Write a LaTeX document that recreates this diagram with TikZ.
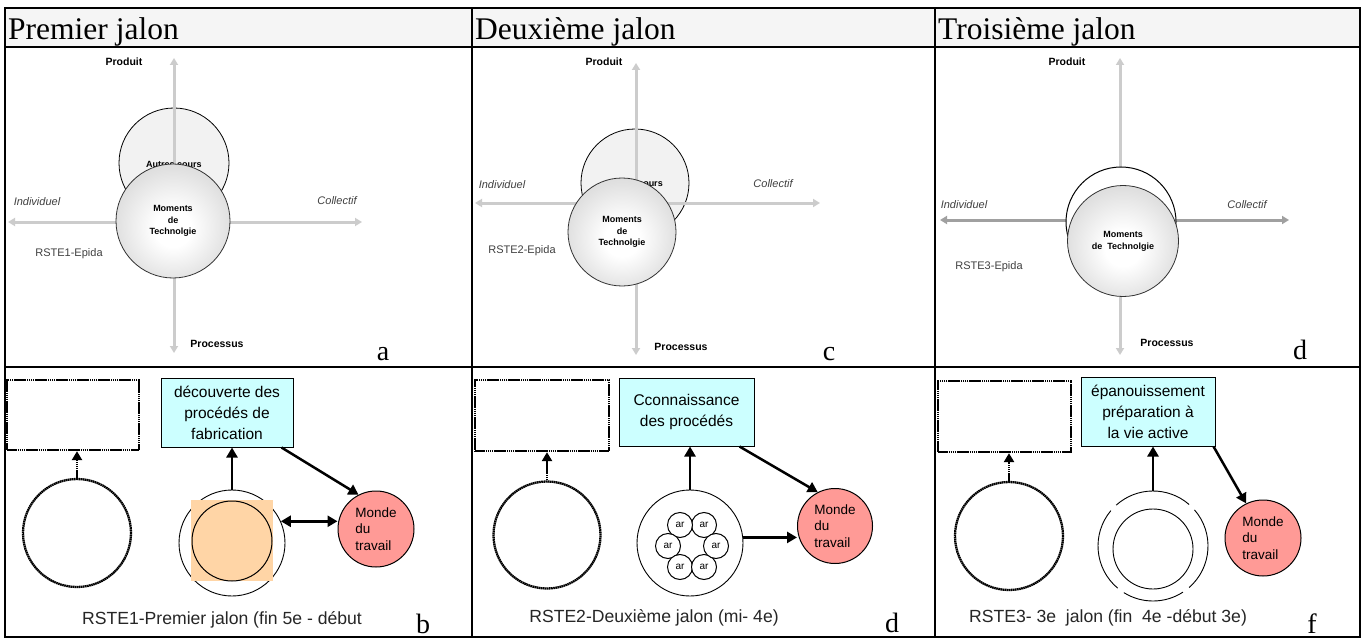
\documentclass[tikz,border=0pt]{standalone}
\usepackage{fontspec}
\setmainfont{Liberation Serif}
\setsansfont{Liberation Sans}
\usetikzlibrary{arrows.meta}
\definecolor{hdrfill}{HTML}{F5F5F5}
\definecolor{axlight}{HTML}{CCCCCC}
\definecolor{axdark}{HTML}{A0A0A0}
\definecolor{txtgray}{HTML}{404040}
\definecolor{cyanfill}{HTML}{CCFFFF}
\definecolor{peach}{HTML}{FFD5A6}
\definecolor{mondefill}{HTML}{FF9A96}
\pgfdeclareradialshading{momshade}{\pgfpoint{0bp}{-4bp}}{%
  color(0bp)=(white);
  color(8bp)=(white);
  color(25bp)=(black!12);
  color(50bp)=(black!25)}
\begin{document}
\begin{tikzpicture}[x=1pt,y=-1pt,
  frameline/.style={line width=2.2pt,black},
  axis/.style={line width=3pt,draw=axlight,{Triangle[length=7pt,width=8pt]}-{Triangle[length=7pt,width=8pt]}},
  axisdark/.style={axis,draw=axdark},
  lblbold/.style={font=\sffamily\bfseries\fontsize{10.5}{12}\selectfont},
  lblit/.style={font=\sffamily\itshape\fontsize{11}{13}\selectfont,text=txtgray},
  lblreg/.style={font=\sffamily\fontsize{11}{13}\selectfont,text=txtgray},
  moments/.style={circle,draw=black!80,line width=0.8pt,shading=momshade,inner sep=0pt,align=center,font=\sffamily\bfseries\fontsize{9}{11.8}\selectfont},
  autres/.style={circle,draw=black,line width=0.8pt,fill=black!5,inner sep=0pt,align=center,font=\sffamily\bfseries\fontsize{9}{11}\selectfont},
  hdrtext/.style={font=\fontsize{31.5}{33}\selectfont,anchor=base west,inner sep=0pt},
  panelletter/.style={font=\fontsize{28}{30}\selectfont,anchor=base,inner sep=0pt},
  dotline/.style={line width=2.3pt,dash pattern=on 1.6pt off 0.5pt},
  dotbox/.style={draw,dotline,minimum width=132pt,minimum height=70pt,inner sep=0pt},
  dotcirc/.style={circle,draw,dotline,inner sep=0pt},
  dotarrow/.style={dotline,-{Triangle[length=9pt,width=10pt]}},
  cyanbox/.style={draw,line width=1pt,fill=cyanfill,align=center,inner sep=0pt,font=\sffamily\fontsize{15.5}{21}\selectfont},
  thickarrow/.style={line width=2.5pt,-{Triangle[length=10pt,width=11pt]}},
  thickdouble/.style={line width=2.5pt,{Triangle[length=10pt,width=11pt]}-{Triangle[length=10pt,width=11pt]}},
  monde/.style={circle,draw,line width=1pt,fill=mondefill,minimum size=76pt,inner sep=0pt,align=left,font=\sffamily\fontsize{13.5}{16.5}\selectfont},
  plaincirc/.style={circle,draw,line width=0.9pt,inner sep=0pt},
  arcirc/.style={circle,draw,line width=1pt,fill=white,minimum size=25pt,inner sep=0pt,font=\sffamily\fontsize{10}{12}\selectfont},
  captiontext/.style={font=\sffamily\fontsize{17.6}{20}\selectfont,text=black!85,anchor=base,inner sep=0pt}
]
\useasboundingbox (0,0) rectangle (1367,639);
\fill[white] (0,0) rectangle (1367,639);
% ---------------- table ----------------
\fill[hdrfill] (5,8) rectangle (1360,47);
\draw[frameline] (5,8) rectangle (1360,637);
\draw[frameline] (5,47) -- (1360,47);
\draw[frameline] (5,367) -- (1360,367);
\draw[frameline] (472,8) -- (472,637);
\draw[frameline] (935,8) -- (935,637);
\node[hdrtext] (h1) at (8,40) {Premier jalon};
\node[hdrtext] (h2) at (475,40) {Deuxième jalon};
\node[hdrtext] (h3) at (938,40) {Troisième jalon};

% ---------------- panel a ----------------
\node[autres,minimum size=110pt] (au1) at (174,163) {};
\coordinate (a1t) at (174,58); \coordinate (a1b) at (174,353);
\coordinate (a1l) at (8,222); \coordinate (a1r) at (362,222);
\draw[axis] (a1t) -- (a1b);
\draw[axis] (a1l) -- (a1r);
\node[font=\sffamily\bfseries\fontsize{9}{11}\selectfont] (au1t) at (174,164) {Autres cours};
\node[moments,minimum size=114pt] (mo1) at (173,221) {Moments\\de\\Technolgie};
\node[lblbold] (pr1) at (124,62) {Produit};
\node[lblbold] (pc1) at (217,344) {Processus};
\node[lblit] (in1) at (37,202) {Individuel};
\node[lblit] (co1) at (337,201) {Collectif};
\node[lblreg] (rs1) at (69,254) {RSTE1-Epida};
\node[panelletter] (la) at (383,360) {a};

% ---------------- panel c ----------------
\node[autres,minimum size=108pt] (au2) at (635,183) {};
\coordinate (a2t) at (636,63); \coordinate (a2b) at (636,355);
\coordinate (a2l) at (475,203); \coordinate (a2r) at (820,203);
\draw[axis] (a2t) -- (a2b);
\draw[axis] (a2l) -- (a2r);
\node[font=\sffamily\bfseries\fontsize{9}{11}\selectfont] (au2t) at (635,183) {Autres cours};
\node[moments,minimum size=108pt] (mo2) at (622,232) {Moments\\de\\Technolgie};
\node[lblbold] (pr2) at (604,62) {Produit};
\node[lblbold] (pc2) at (681,347) {Processus};
\node[lblit] (in2) at (502,185) {Individuel};
\node[lblit] (co2) at (773,184) {Collectif};
\node[lblreg] (rs2) at (522,251) {RSTE2-Epida};
\node[panelletter] (lc) at (829,360) {c};

% ---------------- panel d (top) ----------------
\coordinate (a3t) at (1120,58); \coordinate (a3b) at (1120,355);
\coordinate (a3l) at (940,220); \coordinate (a3r) at (1289,220);
\draw[axis] (a3t) -- (a3b);
\draw[axisdark] (a3l) -- (a3r);
\node[circle,draw=black,line width=1pt,fill=white,minimum size=110pt,inner sep=0pt] (au3) at (1121,222) {};
\node[moments,minimum size=111pt] (mo3) at (1123,241) {Moments\\de~~Technolgie};
\node[lblbold] (pr3) at (1067,62) {Produit};
\node[lblbold] (pc3) at (1167,343) {Processus};
\node[lblit] (in3) at (964,205) {Individuel};
\node[lblit] (co3) at (1247,205) {Collectif};
\node[lblreg] (rs3) at (989,267) {RSTE3-Epida};
\node[panelletter] (ld) at (1300,359) {d};

% ---------------- panel b ----------------
\node[dotbox] (dr1) at (73,415) {};
\node[dotcirc,minimum size=108pt] (dc1) at (77,533) {};
\draw[dotarrow] (dc1.north) -- (dc1.north |- dr1.south);
\node[cyanbox,minimum width=132pt,minimum height=69pt] (bx1) at (227,412.5) {découverte des\\procédés de\\fabrication};
\node[plaincirc,minimum size=106pt] (c1) at (232,543) {};
\fill[peach] (191,500) rectangle (273,581);
\node[plaincirc,line width=1pt,minimum size=80pt] (ci1) at (232,541) {};
\node[monde] (m1) at (376,529) {Monde\\du\\travail};
\draw[thickarrow] (c1.north) -- (c1.north |- bx1.south);
\draw[thickarrow] ([xshift=-12pt]bx1.south east) -- (m1.117);
\draw[thickdouble] (c1.24) -- (m1.west |- c1.24);
\node[captiontext] (cap1) at (222,624) {RSTE1-Premier jalon (fin 5e - début};
\node[panelletter] (lb) at (423,633) {b};

% ---------------- panel d (bottom) ----------------
\node[dotbox,minimum width=134pt,minimum height=71pt] (dr2) at (542,415.5) {};
\node[dotcirc,minimum size=107pt] (dc2) at (547,535) {};
\draw[dotarrow] (dc2.north) -- (dc2.north |- dr2.south);
\node[cyanbox,minimum width=135pt,minimum height=68pt] (bx2) at (686.5,412) {Cconnaissance\\des procédés};
\node[plaincirc,minimum size=106pt] (c2) at (690,543) {};
\node[arcirc] (ar1) at (704,525) {ar};
\node[arcirc] (ar2) at (680,525) {ar};
\node[arcirc] (ar3) at (668,546) {ar};
\node[arcirc] (ar4) at (680,567) {ar};
\node[arcirc] (ar5) at (704,567) {ar};
\node[arcirc] (ar6) at (716,546) {ar};
\node[monde,minimum size=75pt] (m2) at (835,526) {Monde\\du\\travail};
\draw[thickarrow] (c2.north) -- (c2.north |- bx2.south);
\draw[thickarrow] ([xshift=-15pt]bx2.south east) -- (m2.117);
\draw[thickarrow] (c2.6) -- (m2.west |- c2.6);
\node[captiontext] (cap2) at (654,622) {RSTE2-Deuxième jalon (mi- 4e)};
\node[panelletter] (ld2) at (892,632) {d};

% ---------------- panel f ----------------
\node[dotbox,minimum width=133pt,minimum height=71pt] (dr3) at (1004.5,416.5) {};
\node[dotcirc,minimum size=108pt] (dc3) at (1009,536) {};
\draw[dotarrow] (dc3.north) -- (dc3.north |- dr3.south);
\node[cyanbox,minimum width=134pt,minimum height=69pt] (bx3) at (1148,411.5) {épanouissement\\préparation à\\la vie active};
\node[plaincirc,minimum size=80pt] (ci3) at (1153,549) {};
\node[circle,minimum size=110pt,inner sep=0pt] (o3) at (1153,546) {};
\begin{scope}[shift={(o3.center)},x=1pt,y=1pt]
  \draw[line width=0.9pt] (49:55) arc[start angle=49,end angle=132,radius=55];
  \draw[line width=0.9pt] (140:55) arc[start angle=140,end angle=230,radius=55];
  \draw[line width=0.9pt] (238:55) arc[start angle=238,end angle=303,radius=55];
  \draw[line width=0.9pt] (311:55) arc[start angle=311,end angle=401,radius=55];
\end{scope}
\node[monde] (m3) at (1263,538) {Monde\\du\\travail};
\draw[thickarrow] (o3.north) -- (o3.north |- bx3.south);
\draw[thickarrow] ([xshift=-2pt]bx3.south east) -- (m3.116);
\node[captiontext] (cap3) at (1108,622) {RSTE3- 3e~ jalon (fin~ 4e -début 3e)};
\node[panelletter] (lf) at (1312,633) {f};
\end{tikzpicture}
\end{document}
